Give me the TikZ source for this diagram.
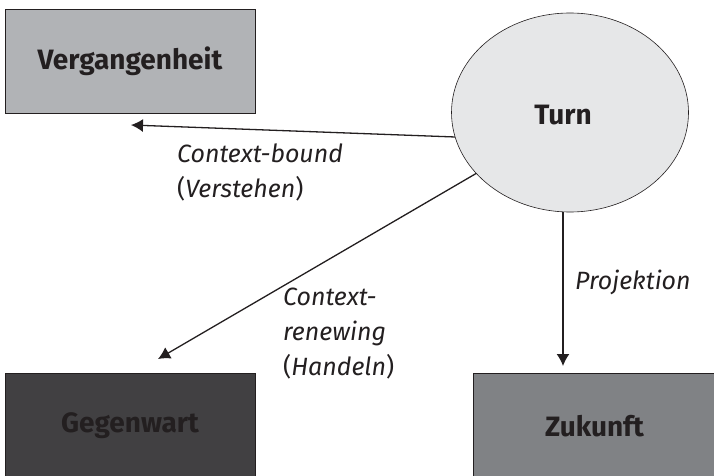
\documentclass[tikz,border=0pt]{standalone}
\usepackage{fontspec}
\setmainfont{Fira Sans}
\usetikzlibrary{shapes.geometric,arrows.meta}
\definecolor{boxA}{HTML}{B1B3B6}
\definecolor{boxB}{HTML}{414042}
\definecolor{boxC}{HTML}{808285}
\definecolor{ellfill}{HTML}{E6E7E8}
\definecolor{ink}{HTML}{231F20}
\tikzset{
  bigfont/.style={font=\fontsize{28}{32}\selectfont\bfseries, text=ink},
  box/.style={draw=ink, line width=0.6pt, inner sep=0pt, bigfont},
  conn/.style={draw=ink, line width=1.3pt, -{Latex[length=12pt,width=13pt]}},
  lab/.style={font=\fontsize{25}{35}\selectfont\itshape, text=ink, anchor=north west, align=left, inner sep=0pt},
}
\begin{document}
\begin{tikzpicture}[x=1pt,y=-1pt]
\useasboundingbox (0,0) rectangle (714,476);
\node[box, fill=boxA, minimum width=250pt, minimum height=104pt] (verg) at (130,61) {Vergangenheit};
\node[box, fill=boxB, minimum width=250pt, minimum height=106pt] (gegen) at (130,426) {Gegenwart};
\node[box, fill=boxC, minimum width=243pt, minimum height=106pt] (zuk) at (594.5,426) {Zukunft};
\node[ellipse, draw=ink, line width=0.6pt, fill=ellfill, minimum width=237pt, minimum height=199pt, inner sep=0pt] (turn) at (570,112.5) {};
\node[bigfont, inner sep=0pt] (turnlab) at (563,115) {Turn};
\coordinate (e1) at (131,125);
\coordinate (e2) at (158,359);
\coordinate (e3) at (563,366);
\draw[conn] (turn.192) -- (e1);
\draw[conn] (turn.213) -- (e2);
\draw[conn] (turn.south -| e3) -- (e3);
\node[lab] (l1) at (177,144) {Context-bound\\\upshape(\itshape Verstehen\upshape)};
\node[lab] (l2) at (283,288) {Context-\\renewing\\\upshape(\itshape Handeln\upshape)};
\node[lab] (l3) at (575,270) {Projektion};
\end{tikzpicture}
\end{document}
